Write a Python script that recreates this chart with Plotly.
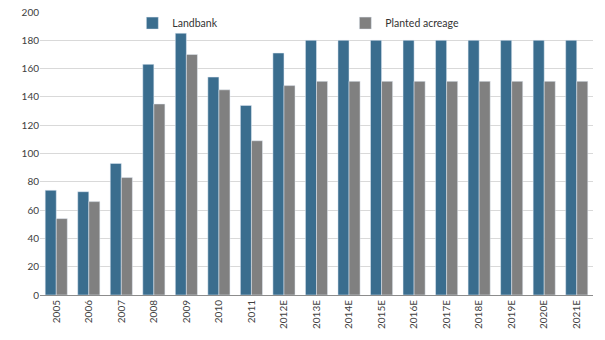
import plotly.graph_objects as go

years = ["2005", "2006", "2007", "2008", "2009", "2010", "2011", "2012E", "2013E",
         "2014E", "2015E", "2016E", "2017E", "2018E", "2019E", "2020E", "2021E"]
landbank = [74, 73, 93, 163, 185, 154, 134, 171, 180, 180, 180, 180, 180, 180, 180, 180, 180]
planted = [54, 66, 83, 135, 170, 145, 109, 148, 151, 151, 151, 151, 151, 151, 151, 151, 151]

fig = go.Figure()
fig.add_trace(go.Bar(x=years, y=landbank, name="Landbank", marker_color="#3a6d8e"))
fig.add_trace(go.Bar(x=years, y=planted, name="Planted acreage", marker_color="#808080"))

fig.update_layout(
    width=605, height=340,
    margin=dict(l=40, r=12, t=12, b=45, autoexpand=False),
    plot_bgcolor="white", paper_bgcolor="white",
    barmode="group", bargap=0.32, bargroupgap=0,
    font=dict(family="Lato", size=10, color="#404040"),
    legend=dict(orientation="h", x=0.167, y=1.012, xanchor="left", yanchor="top",
                entrywidth=168, entrywidthmode="pixels", itemwidth=30,
                font=dict(size=10.5, color="#333333"), bgcolor="rgba(0,0,0,0)"),
    xaxis=dict(tickangle=-90, showline=True, linecolor="#8c8c8c", linewidth=1,
               ticks="", showgrid=False),
    yaxis=dict(range=[0, 200], dtick=20, showgrid=True, gridcolor="#d9d9d9",
               gridwidth=1, zeroline=False, ticks="", showline=False),
)

fig.write_html("out.html")
